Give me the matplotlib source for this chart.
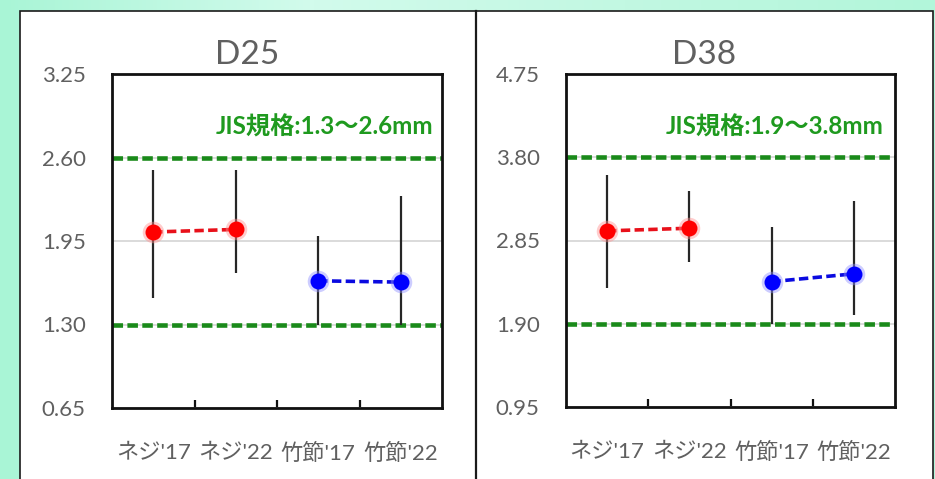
import numpy as np
import matplotlib
matplotlib.use("Agg")
import matplotlib.pyplot as plt
from matplotlib.patches import Rectangle
from matplotlib.colors import LinearSegmentedColormap

# ---- data ----
categories = ["ネジ'17", "ネジ'22", "竹節'17", "竹節'22"]

d25_mean = [2.02, 2.04, 1.64, 1.63]
d25_high = [2.50, 2.50, 1.99, 2.30]
d25_low = [1.51, 1.70, 1.30, 1.30]
d25_ticks = [0.65, 1.30, 1.95, 2.60, 3.25]
d25_spec = [1.3, 2.6]
d25_label = "JIS規格:1.3～2.6mm"

d38_mean = [2.96, 2.99, 2.38, 2.47]
d38_high = [3.60, 3.41, 3.00, 3.30]
d38_low = [2.31, 2.60, 1.90, 2.00]
d38_ticks = [0.95, 1.90, 2.85, 3.80, 4.75]
d38_spec = [1.9, 3.8]
d38_label = "JIS規格:1.9～3.8mm"

W, H = 935, 479
DPI = 100
fig = plt.figure(figsize=(W / DPI, H / DPI), dpi=DPI)

FONT = ["Lato", "Noto Sans CJK JP", "DejaVu Sans"]
GRAY = "#606060"
GREEN_TXT = "#1f9a1f"
GREEN_LN = "#1a8a1a"

# ---- background: mint gradient with white framed panels ----
bg = fig.add_axes([0, 0, 1, 1], zorder=-10)
bg.set_xlim(0, W)
bg.set_ylim(H, 0)
bg.axis("off")
cmap = LinearSegmentedColormap.from_list(
    "mint", ["#a9f5d6", "#d2fbec", "#c2f8e2", "#b2f6da"])
grad = np.linspace(0, 1, 256).reshape(1, -1)
bg.imshow(grad, cmap=cmap, extent=[0, W, H, 0], aspect="auto")
bg.add_patch(Rectangle((19.5, 10.5), 913, 480, facecolor="white",
                       edgecolor="#1a1a1a", linewidth=1.2))
bg.plot([475.5, 475.5], [10.5, H + 2], color="#1a1a1a", linewidth=1.6)


def px_axes(x0, x1, y0, y1):
    return [x0 / W, 1 - y1 / H, (x1 - x0) / W, (y1 - y0) / H]


def draw_panel(rect, title, title_x, mean, low, high, ticks, spec, label,
               label_x):
    ax = fig.add_axes(px_axes(*rect))
    x = np.arange(len(categories))
    ax.set_xlim(-0.5, len(categories) - 0.5)
    ax.set_ylim(ticks[0], ticks[-1])

    # grid
    ax.set_yticks(ticks)
    ax.set_yticklabels([f"{t:.2f}" for t in ticks])
    ax.yaxis.grid(True, color="#d4d4d4", linewidth=1.2)
    ax.set_axisbelow(True)

    # spec limits
    for s in spec:
        ax.axhline(s, color=GREEN_LN, linewidth=3.3, dashes=(2.3, 0.95),
                   zorder=2, clip_on=False)

    # range bars
    ax.vlines(x, low, high, color="#262626", linewidth=1.6, zorder=3)

    # connecting lines and points
    for idx, core, glow, line in [((0, 1), "#ff0000", "#ff9090", "#e8101a"),
                                  ((2, 3), "#0000ff", "#9090ff", "#0a0ae0")]:
        xs = [x[i] for i in idx]
        ys = [mean[i] for i in idx]
        ax.plot(xs, ys, color=line, linewidth=2.6, dashes=(2.6, 1.2),
                zorder=4)
        ax.plot(xs, ys, linestyle="none", marker="o", markersize=15.5,
                color=glow, alpha=0.45, markeredgewidth=0, zorder=5)
        ax.plot(xs, ys, linestyle="none", marker="o", markersize=11.5,
                color=core, markeredgewidth=0, zorder=6)

    # axes styling
    for sp in ax.spines.values():
        sp.set_linewidth(2.0)
        sp.set_color("#111111")
        sp.set_zorder(7)
    ax.set_xticks(x)
    ax.set_xticklabels(categories)
    ax.set_xticks(x[:-1] + 0.5, minor=True)
    ax.tick_params(axis="x", which="major", length=0, pad=25,
                   labelsize=16, labelcolor=GRAY)
    ax.tick_params(axis="x", which="minor", direction="in", length=6,
                   width=1.6, color="#111111")
    ax.tick_params(axis="y", length=0, pad=19, labelsize=16,
                   labelcolor=GRAY)
    for lab in ax.get_xticklabels() + ax.get_yticklabels():
        lab.set_family(FONT)

    ax.text(label_x, 0.841, label, transform=ax.transAxes, ha="right",
            va="center", fontsize=17.5, fontweight="bold", color=GREEN_TXT,
            family=FONT)

    fig.text(title_x / W, 1 - 55 / H, title, ha="center", va="center",
             fontsize=24, color=GRAY, family=FONT)
    return ax


draw_panel((112, 442, 74, 408), "D25", 247, d25_mean, d25_low, d25_high,
           d25_ticks, d25_spec, d25_label, 0.973)
draw_panel((566, 895, 74, 407), "D38", 704, d38_mean, d38_low, d38_high,
           d38_ticks, d38_spec, d38_label, 0.964)

fig.savefig("out.png", dpi=DPI)
